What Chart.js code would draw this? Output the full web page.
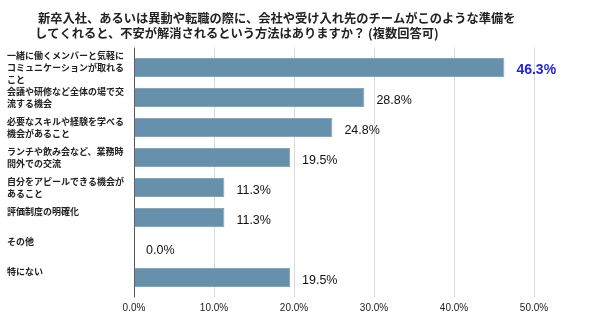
<!DOCTYPE html>
<html lang="ja">
<head>
<meta charset="utf-8">
<title>不安が解消される方法</title>
<script src="https://cdn.jsdelivr.net/npm/chart.js@4.4.0/dist/chart.umd.min.js"></script>
<style>
    html, body { margin: 0; padding: 0; background: #ffffff; }
    #chart { display: block; }
</style>
</head>
<body>
<canvas id="chart" width="590" height="324"></canvas>
<script>
const titleLines = [
    "新卒入社、あるいは異動や転職の際に、会社や受け入れ先のチームがこのような準備を",
    "してくれると、不安が解消されるという方法はありますか？ (複数回答可)"
];

// multi-line category labels (trailing "" lifts single-line labels like the original)
const categories = [
    ["一緒に働くメンバーと気軽に", "コミュニケーションが取れる", "こと"],
    ["会議や研修など全体の場で交", "流する機会"],
    ["必要なスキルや経験を学べる", "機会があること"],
    ["ランチや飲み会など、業務時", "間外での交流"],
    ["自分をアピールできる機会が", "あること"],
    ["評価制度の明確化", ""],
    ["その他", ""],
    ["特にない", ""]
];

const values = [46.3, 28.8, 24.8, 19.5, 11.3, 11.3, 0.0, 19.5];

const xTicks = [0, 10, 20, 30, 40, 50];

const cjkFont = "'Noto Sans CJK JP', 'Noto Sans', sans-serif";
const latinFont = "'Liberation Sans', Arial, sans-serif";

// title drawn at the left like the source image
const titlePlugin = {
    id: "leftTitle",
    afterDraw(chart) {
        const c = chart.ctx;
        c.save();
        c.fillStyle = "#222222";
        c.font = "bold 12.25px " + cjkFont;
        c.textBaseline = "middle";
        c.textAlign = "left";
        c.fillText(titleLines[0], 38, 18.5);
        c.fillText(titleLines[1], 35, 33.5);
        c.restore();
    }
};

// grid lines poke a few px above the plot area
const gridTopPlugin = {
    id: "gridTop",
    beforeDatasetsDraw(chart) {
        const c = chart.ctx;
        const xs = chart.scales.x;
        const top = chart.chartArea.top;
        c.save();
        xTicks.forEach((t, i) => {
            const px = Math.round(xs.getPixelForValue(t)) + 0.5;
            c.strokeStyle = i === 0 ? "#555555" : "#d9d9d9";
            c.lineWidth = 1;
            c.beginPath();
            c.moveTo(px, top - 5);
            c.lineTo(px, top);
            c.stroke();
        });
        c.restore();
    }
};

// value labels right of each bar
const valueLabelPlugin = {
    id: "valueLabels",
    afterDatasetsDraw(chart) {
        const c = chart.ctx;
        const meta = chart.getDatasetMeta(0);
        const maxVal = Math.max(...values);
        c.save();
        c.textAlign = "left";
        c.textBaseline = "middle";
        meta.data.forEach((bar, i) => {
            const v = values[i];
            if (v === maxVal) {
                c.font = "bold 14px " + latinFont;
                c.fillStyle = "#1f1fe6";
            } else {
                c.font = "12.5px " + latinFont;
                c.fillStyle = "#111111";
            }
            c.fillText(v.toFixed(1) + "%", bar.x + 12, bar.y + 3);
        });
        c.restore();
    }
};

const ctx = document.getElementById("chart").getContext("2d");

new Chart(ctx, {
    type: "bar",
    data: {
        labels: categories,
        datasets: [{
            data: values,
            backgroundColor: "#6690ab",
            borderColor: "#84a6bd",
            borderWidth: 1,
            categoryPercentage: 0.8,
            barPercentage: 0.8
        }]
    },
    options: {
        indexAxis: "y",
        responsive: false,
        animation: false,
        layout: {
            padding: { top: 52.5, left: 7, right: 56, bottom: 0 }
        },
        plugins: {
            legend: { display: false },
            title: { display: false },
            tooltip: { enabled: false }
        },
        scales: {
            x: {
                min: 0,
                max: 50,
                afterBuildTicks: scale => {
                    scale.ticks = xTicks.map(v => ({ value: v }));
                },
                afterFit: scale => { scale.height = 31.5; },
                grid: {
                    color: c => c.index === 0 ? "#555555" : "#d9d9d9",
                    tickColor: c => c.index === 0 ? "#555555" : "#d9d9d9",
                    tickLength: 5,
                    lineWidth: 1
                },
                border: { display: false },
                ticks: {
                    padding: 5,
                    color: "#222222",
                    font: { family: latinFont, size: 10 },
                    callback: v => v.toFixed(1) + "%"
                }
            },
            y: {
                afterFit: scale => { scale.width = 127; },
                grid: { display: false },
                border: { display: true, color: "#555555", width: 1 },
                ticks: {
                    autoSkip: false,
                    crossAlign: "far",
                    color: "#222222",
                    font: { family: cjkFont, size: 9, weight: "bold", lineHeight: 1.3 }
                }
            }
        }
    },
    plugins: [titlePlugin, gridTopPlugin, valueLabelPlugin]
});
</script>
</body>
</html>
